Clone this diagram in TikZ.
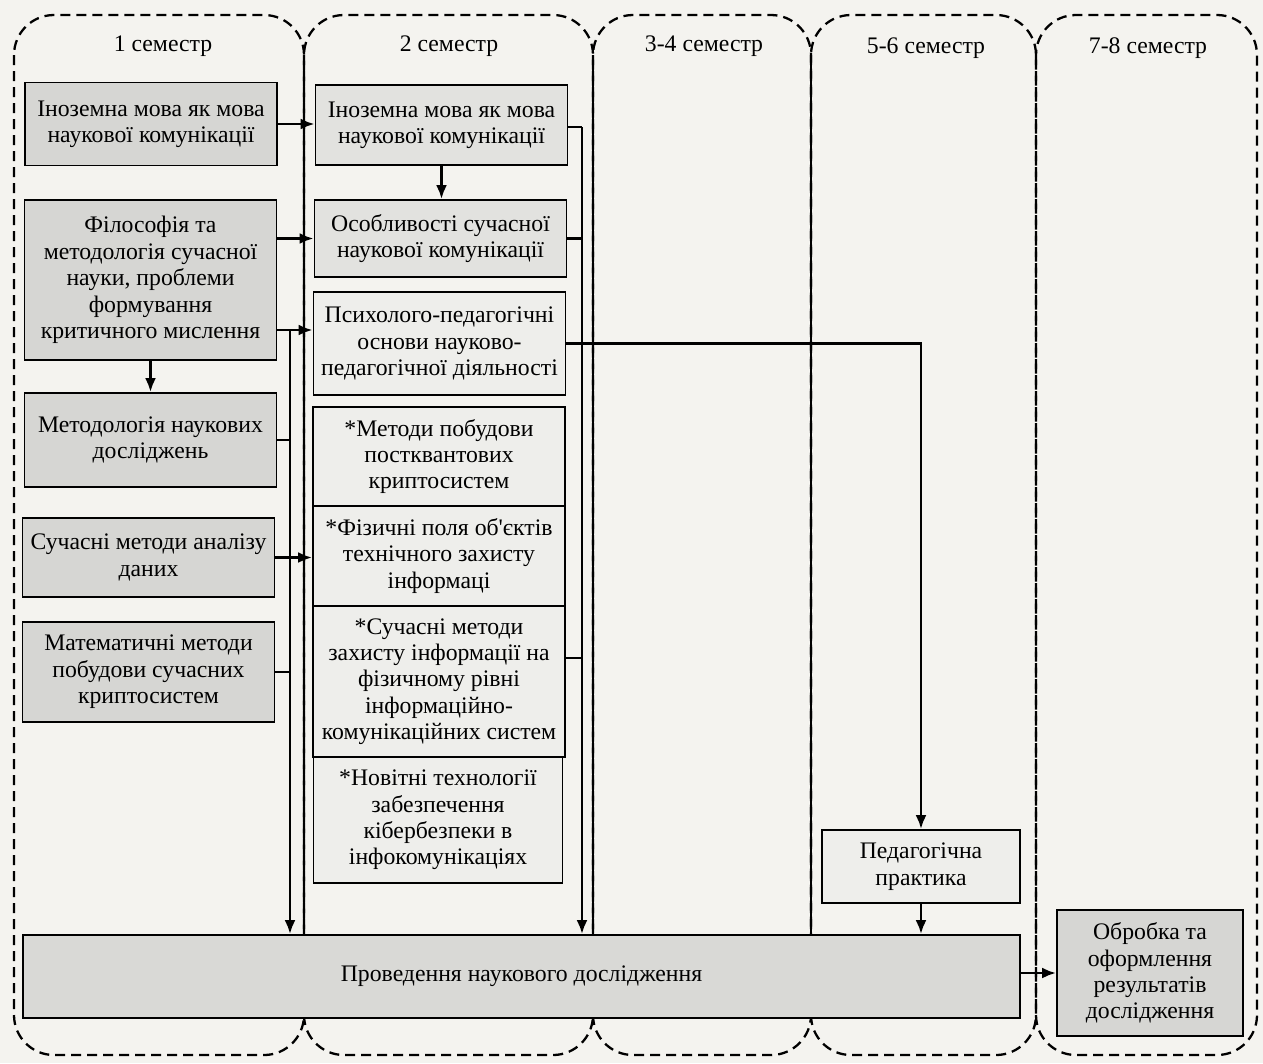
\documentclass[tikz,border=0pt]{standalone}
\usepackage{fontspec}
\setmainfont{Liberation Serif}
\usetikzlibrary{arrows.meta,positioning,calc}
\definecolor{paper}{RGB}{244,243,239}
\definecolor{boxgray}{RGB}{214,214,211}
\definecolor{boxlight}{RGB}{226,226,223}
\definecolor{boxpale}{RGB}{238,238,235}

\begin{document}
\begin{tikzpicture}[x=0.2mm, y=-0.2mm,
    font=\fontsize{13.5}{15}\selectfont,
    block/.style={rectangle, draw, line width=1pt, fill=boxgray, align=center, inner sep=2pt},
    light/.style={block, fill=boxlight},
    pale/.style={block, fill=boxpale},
    first/.style={block, minimum width=50.4mm},
    second/.style={pale, minimum width=50.4mm},
    sem/.style={line width=1.3pt, dash pattern=on 2mm off 1.2mm, rounded corners=8mm},
    border/.style={line width=0.8pt},
    link/.style={line width=1.6pt},
    arrow/.style={link, -{Latex[length=2.8mm,width=2.2mm]}}]
  \fill[paper] (0,0) rectangle (1263,1063);
  \useasboundingbox (0,0) rectangle (1263,1063);

  % semesters
  \draw[sem] (14,15) rectangle (304,1055);
  \draw[sem] (304,15) rectangle (593,1055);
  \draw[sem] (593,15) rectangle (811,1055);
  \draw[sem] (811,15) rectangle (1036,1055);
  \draw[sem] (1036,15) rectangle (1257,1055);
  \draw[border] (304,55) -- (304,1015);
  \draw[border] (593,55) -- (593,1015);
  \draw[border] (811,55) -- (811,1015);

  \node (s1) at (163,46) {1 семестр};
  \node (s2) at (449,46) {2 семестр};
  \node (s3) at (704,46) {3-4 семестр};
  \node (s4) at (926,48) {5-6 семестр};
  \node (s5) at (1148,48) {7-8 семестр};

  % 1 semester
  \node[first, minimum height=16.6mm] (a1) at (151,124) {Іноземна мова як мова\\наукової комунікації};
  \node[first, minimum height=32mm] (a2) at (150.5,280) {Філософія та\\методологія сучасної\\науки, проблеми\\формування\\критичного мислення};
  \node[first, minimum height=18.8mm] (a3) at (150.5,440) {Методологія наукових\\досліджень};
  \node[first, minimum height=15.8mm] (a4) at (148.5,557.5) {Сучасні методи аналізу\\даних};
  \node[first, minimum height=20mm] (a5) at (148.5,672) {Математичні методи\\побудови сучасних\\криптосистем};

  % 2 semester
  \node[second, fill=boxlight, minimum height=16mm] (b1) at (441.5,125) {Іноземна мова як мова\\наукової комунікації};
  \node[second, fill=boxlight, minimum height=15.4mm] (b2) at (440.5,238.5) {Особливості сучасної\\наукової комунікації};
  \node[second, minimum height=20.6mm] (b3) at (439.5,343.5) {Психолого-педагогічні\\основи науково-\\педагогічної діяльності};
  \node[second, minimum height=19.8mm] (b4) at (439,456.5) {*Методи побудови\\постквантових\\криптосистем};
  \node[second, minimum height=20mm] (b5) at (439,556) {*Фізичні поля об\textquotesingle єктів\\технічного захисту\\інформаці};
  \node[second, minimum height=30.2mm] (b6) at (439,681.5) {*Сучасні методи\\захисту інформації на\\фізичному рівні\\інформаційно-\\комунікаційних систем};
  \node[second, minimum width=49.8mm, minimum height=25.2mm] (b7) at (438,820) {*Новітні технології\\забезпечення\\кібербезпеки в\\інфокомунікаціях};

  % 5-6, 7-8 semesters
  \node[pale, minimum width=39.6mm, minimum height=14.6mm] (p) at (921,866.5) {Педагогічна\\практика};
  \node[block, fill=boxgray!90!paper, minimum width=199.4mm, minimum height=16.6mm] (r) at (521.5,976.5) {Проведення наукового дослідження};
  \node[block, minimum width=37.2mm, minimum height=25.2mm] (o) at (1150,973) {Обробка та\\оформлення\\результатів\\дослідження};

  % links
  \coordinate (busl) at (290,330);
  \coordinate (busr) at (582,127);
  \draw[arrow] (a1.east) -- (a1.east -| b1.west);
  \draw[arrow] (b2.west -| a2.east) -- (b2.west);
  \draw[arrow] (a2.east |- busl) -- (b3.west |- busl);
  \draw[arrow] (a2.south) -- (a3.north);
  \draw[arrow] (busl) -- (busl |- r.north);
  \draw[link] (a3.east) -- (a3.east -| busl);
  \draw[link] (a5.east) -- (a5.east -| busl);
  \draw[arrow] (a4.east) -- (a4.east -| b5.west);
  \draw[arrow] (b1.south) -- (b1.south |- b2.north);
  \draw[link] (b1.east |- busr) -- (busr);
  \draw[arrow] (busr) -- (busr |- r.north);
  \draw[link] (b2.east) -- (b2.east -| busr);
  \draw[link] ([yshift=4.7mm]b6.east) -- ([yshift=4.7mm]b6.east -| busr);
  \draw[arrow] (b3.east) -| (p.north);
  \draw[arrow] (p.south) -- (p.south |- r.north);
  \draw[arrow] (o.west -| r.east) -- (o.west);
\end{tikzpicture}
\end{document}
